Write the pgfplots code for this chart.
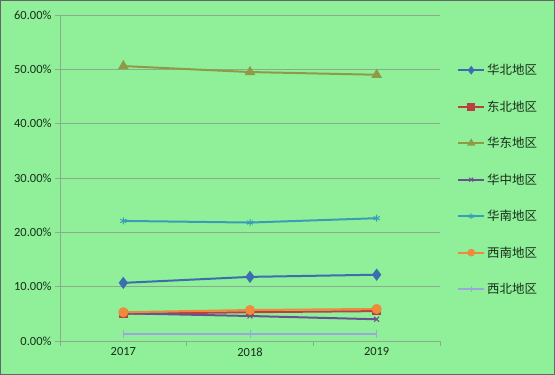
\documentclass[border=0pt]{standalone}
\usepackage{pgfplots}
\pgfplotsset{compat=1.18}
\usepackage{fontspec}
\setmainfont{Carlito}
\newfontfamily\cjk{Noto Sans CJK SC}
\definecolor{bgc}{RGB}{144,240,154}
\definecolor{gridc}{RGB}{140,170,140}
\definecolor{txt}{RGB}{25,45,25}
\definecolor{c1}{RGB}{58,110,176}
\definecolor{c2}{RGB}{184,64,64}
\definecolor{c3}{RGB}{143,154,69}
\definecolor{c4}{RGB}{104,82,144}
\definecolor{c5}{RGB}{58,157,184}
\definecolor{c6}{RGB}{238,138,60}
\definecolor{c7}{RGB}{153,168,216}
\begin{document}
\begin{tikzpicture}
\fill[bgc] (0bp,0bp) rectangle (555bp,375bp);
\draw[gray!80!black,line width=1.2bp] (0.6bp,0.6bp) rectangle (554.4bp,374.4bp);
\begin{axis}[
  at={(60bp,34bp)}, anchor=south west,
  scale only axis, width=380bp, height=326bp,
  xmin=-0.5, xmax=2.5, ymin=0, ymax=60,
  axis x line*=bottom, axis y line*=left,
  axis line style={gridc, line width=0.8bp},
  xtick={-0.5,0.5,1.5,2.5}, xticklabels={},
  extra x ticks={0,1,2}, extra x tick labels={2017,2018,2019},
  extra x tick style={major tick length=0pt, grid=none},
  ytick={0,10,20,30,40,50,60},
  yticklabels={0.00\%,10.00\%,20.00\%,30.00\%,40.00\%,50.00\%,60.00\%},
  ymajorgrids, grid style={gridc, line width=0.8bp},
  tick align=outside, major tick length=5bp,
  tick style={gridc, line width=0.8bp},
  ticklabel style={font=\fontsize{12.5}{14}\selectfont, text=txt},
  xticklabel style={yshift=-3bp},
  clip=false,
  legend style={at={([xshift=14bp]1,0.495)}, anchor=west, draw=none, fill=none,
    font=\cjk\fontsize{12.5}{14}\selectfont, text=txt, row sep=20.5bp,
    legend cell align=left},
  legend image code/.code={%
    \draw[mark repeat=2,mark phase=2,#1,line width=2bp,mark size=2.8bp]
      plot coordinates {(0bp,0bp) (13bp,0bp) (26bp,0bp)};},
  every axis plot/.append style={line width=2bp},
]
\addplot[c1, mark=diamond*, mark size=4.5bp] coordinates {(0,10.7) (1,11.8) (2,12.2)};
\addlegendentry{华北地区}
\addplot[c2, mark=square*, mark size=3.2bp] coordinates {(0,5.0) (1,5.3) (2,5.5)};
\addlegendentry{东北地区}
\addplot[c3, mark=triangle*, mark size=4.2bp] coordinates {(0,50.6) (1,49.5) (2,49.0)};
\addlegendentry{华东地区}
\addplot[c4, mark=x, mark size=3.5bp, mark options={line width=1bp}] coordinates {(0,5.1) (1,4.6) (2,4.0)};
\addlegendentry{华中地区}
\addplot[c5, mark=asterisk, mark size=3.5bp, mark options={line width=1bp}] coordinates {(0,22.1) (1,21.8) (2,22.6)};
\addlegendentry{华南地区}
\addplot[c6, mark=*, mark size=4bp] coordinates {(0,5.3) (1,5.7) (2,5.9)};
\addlegendentry{西南地区}
\addplot[c7, mark=|, mark size=4bp, mark options={line width=1bp}] coordinates {(0,1.2) (1,1.2) (2,1.2)};
\addlegendentry{西北地区}
\end{axis}
\end{tikzpicture}
\end{document}
